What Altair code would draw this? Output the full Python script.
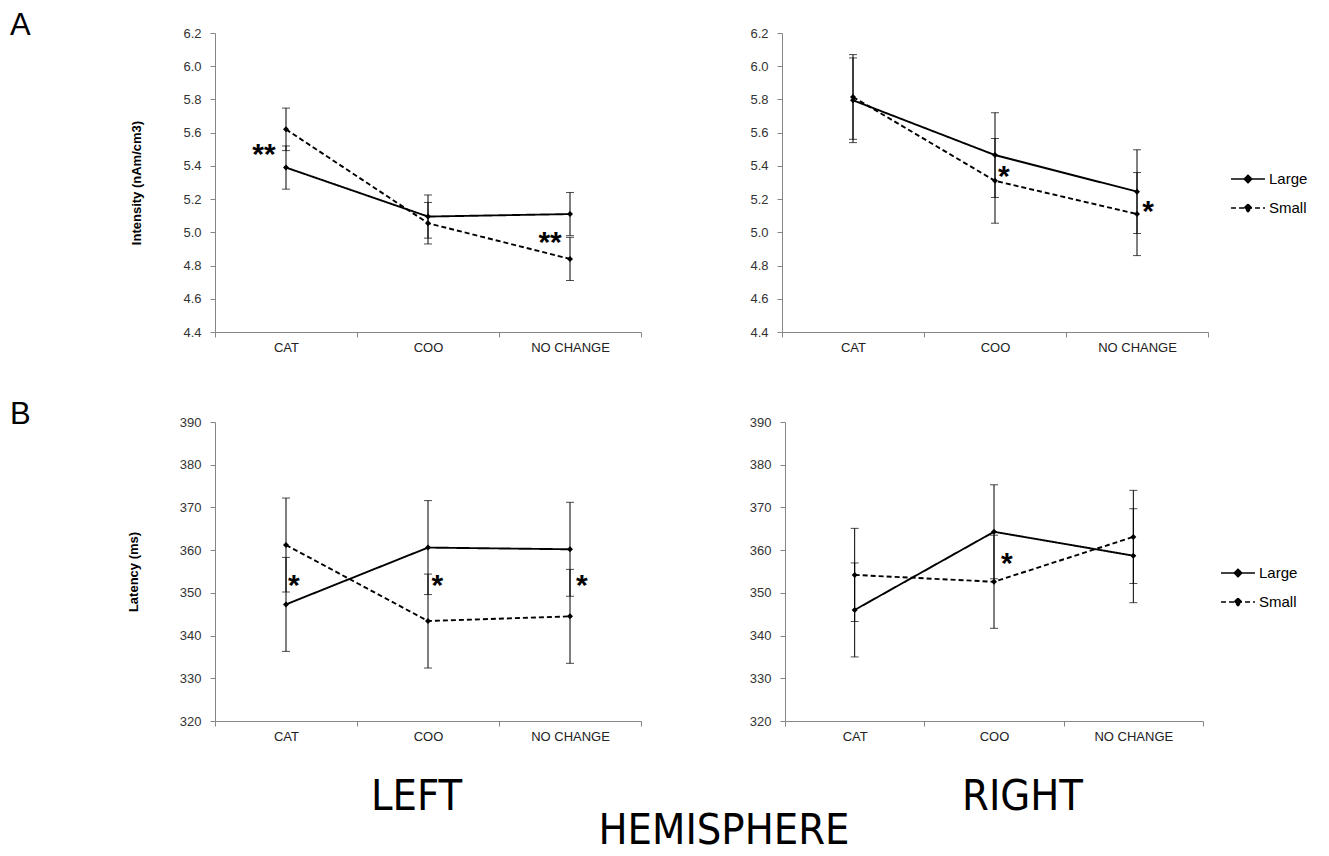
import altair as alt
import pandas as pd

categories = ["CAT", "COO", "NO CHANGE"]
groups = ["Large", "Small"]

# Intensity (nAm/cm3)
int_left_large = [5.39, 5.095, 5.11]
int_left_large_se = [0.13, 0.13, 0.13]
int_left_small = [5.62, 5.055, 4.84]
int_left_small_se = [0.128, 0.125, 0.13]

int_right_large = [5.795, 5.465, 5.245]
int_right_large_se = [0.255, 0.255, 0.252]
int_right_small = [5.815, 5.31, 5.11]
int_right_small_se = [0.255, 0.255, 0.25]

# Latency (ms)
lat_left_large = [347.3, 360.6, 360.2]
lat_left_large_se = [11.0, 11.0, 11.0]
lat_left_small = [361.2, 343.4, 344.5]
lat_left_small_se = [11.0, 11.0, 11.0]

lat_right_large = [346.0, 364.3, 358.7]
lat_right_large_se = [11.0, 11.0, 11.0]
lat_right_small = [354.2, 352.6, 363.1]
lat_right_small_se = [10.9, 10.9, 10.9]

int_ticks = [4.4, 4.6, 4.8, 5.0, 5.2, 5.4, 5.6, 5.8, 6.0, 6.2]
lat_ticks = [320, 330, 340, 350, 360, 370, 380, 390]

# significance marks: text, x (category units), y (data units)
stars_int_left_text = ["**", "**"]
stars_int_left_x = [0.345, 2.36]
stars_int_left_y = [5.514, 4.986]
stars_int_right_text = ["*", "*"]
stars_int_right_x = [1.563, 2.578]
stars_int_right_y = [5.383, 5.173]
stars_lat_left_text = ["*", "*", "*"]
stars_lat_left_x = [0.555, 1.566, 2.583]
stars_lat_left_y = [353.5, 353.5, 353.5]
stars_lat_right_text = ["*"]
stars_lat_right_x = [1.592]
stars_lat_right_y = [358.7]

FONT = "Liberation Sans, Arial, sans-serif"
NARROW = ("Liberation Sans Narrow, Arial Narrow, DejaVu Sans Condensed, "
          "Open Sans Condensed, Roboto Condensed, Liberation Sans, sans-serif")
GRAY = "#868686"

label_expr = " : ".join(
    [f"datum.value == {i + 0.5} ? '{c}'" for i, c in enumerate(categories)]
) + " : ''"
x_values = [0, 0.5, 1, 1.5, 2, 2.5, 3]
LEGEND_PATH = "M-1,0H1M0,-0.22L0.22,0L0,0.22L-0.22,0Z"


def panel(large, large_se, small, small_se, ticks, ydom, yfmt, ytitle,
          st_text, st_x, st_y, width, height, legend_xy=None, letter=None,
          xtitle=None, xtitle_x=0):
    rows = []
    for g, vals, ses in (("Large", large, large_se), ("Small", small, small_se)):
        for i, (c, v, s) in enumerate(zip(categories, vals, ses)):
            rows.append({"cat": c, "pos": i + 0.5, "group": g,
                         "value": v, "lo": v - s, "hi": v + s})
    df = pd.DataFrame(rows)
    sdf = pd.DataFrame({"text": st_text, "pos": st_x, "value": st_y})

    xaxis_kw = dict(
        values=x_values, labelExpr=label_expr, grid=False,
        domainColor=GRAY, tickColor=GRAY, tickSize=5,
        tickOpacity={"condition": {"test": "datum.value % 1 != 0", "value": 0}, "value": 1},
        labelFontSize=13, labelColor="#222222", labelFont=FONT, labelPadding=4,
        labelOverlap=False, labelFlush=False, labelAngle=0,
    )
    if xtitle:
        xaxis_kw.update(title=xtitle, titleFont=NARROW, titleFontSize=43,
                        titleFontWeight="normal", titleColor="black",
                        titlePadding=32, titleX=xtitle_x, titleAlign="center",
                        titleBaseline="top")
    else:
        xaxis_kw.update(title=None)
    xenc = alt.X("pos:Q", scale=alt.Scale(domain=[0, 3], nice=False, zero=False),
                 axis=alt.Axis(**xaxis_kw))

    yaxis_kw = dict(
        values=ticks, format=yfmt, grid=False, domainColor=GRAY, tickColor=GRAY,
        tickSize=5, labelFontSize=13, labelColor="#333333", labelFont=FONT,
        labelPadding=9, labelOverlap=False,
    )
    if ytitle:
        yaxis_kw.update(title=ytitle, titleFont=FONT, titleFontSize=13,
                        titleFontWeight="bold", titleColor="black", titlePadding=39)
    else:
        yaxis_kw.update(title=None)
    yscale = alt.Scale(domain=ydom, nice=False, zero=False)
    yaxis = alt.Axis(**yaxis_kw)
    yenc = alt.Y("value:Q", scale=yscale, axis=yaxis)
    ylo = alt.Y("lo:Q", scale=yscale, axis=yaxis)
    yhi = alt.Y("hi:Q", scale=yscale, axis=yaxis)

    base = alt.Chart(df)
    err = base.mark_rule(color="black", strokeWidth=1).encode(
        x=xenc, y=ylo, y2="hi:Q")
    cap_lo = base.mark_tick(orient="horizontal", size=8, thickness=1, color="black").encode(
        x=xenc, y=ylo)
    cap_hi = base.mark_tick(orient="horizontal", size=8, thickness=1, color="black").encode(
        x=xenc, y=yhi)

    if legend_xy is not None:
        legend = alt.Legend(
            orient="none", legendX=legend_xy[0], legendY=legend_xy[1], title=None,
            symbolType=LEGEND_PATH, symbolSize=1150, symbolStrokeWidth=1.6,
            symbolStrokeColor="black", symbolFillColor="black", symbolOpacity=1,
            labelFontSize=15, labelColor="black", labelFont=FONT,
            rowPadding=3, padding=0, labelOffset=3,
        )
    else:
        legend = None
    dash = alt.StrokeDash("group:N", scale=alt.Scale(domain=groups, range=[[1, 0], [5, 3]]),
                          legend=legend)
    line = base.mark_line(color="black", strokeWidth=1.9).encode(
        x=xenc, y=yenc, strokeDash=dash, order="pos:Q")
    pts = base.mark_point(shape="diamond", filled=True, size=36, color="black", opacity=1).encode(
        x=xenc, y=yenc, detail="group:N")
    stars = alt.Chart(sdf).mark_text(fontSize=30, font=FONT, fontWeight="bold", color="black",
                                     dy=8, align="center", baseline="middle").encode(
        x=xenc, y=yenc, text="text:N")

    ch = alt.layer(err, cap_lo, cap_hi, line, pts, stars).properties(width=width, height=height)
    if letter:
        ch = ch.properties(title=alt.TitleParams(
            text=letter, anchor="start", frame="group", dx=-205, dy=46, fontSize=31,
            fontWeight="normal", font=FONT, color="black", offset=0, baseline="bottom"))
    return ch


W, H = 426, 299

a_left = panel(int_left_large, int_left_large_se, int_left_small, int_left_small_se,
               int_ticks, [4.4, 6.2], ".1f", "Intensity (nAm/cm3)",
               stars_int_left_text, stars_int_left_x, stars_int_left_y, W, H, letter="A")
a_right = panel(int_right_large, int_right_large_se, int_right_small, int_right_small_se,
                int_ticks, [4.4, 6.2], ".1f", None,
                stars_int_right_text, stars_int_right_x, stars_int_right_y, W, H,
                legend_xy=(W + 22, 128))
b_left = panel(lat_left_large, lat_left_large_se, lat_left_small, lat_left_small_se,
               lat_ticks, [320, 390], "d", "Latency (ms)",
               stars_lat_left_text, stars_lat_left_x, stars_lat_left_y, W, H, letter="B",
               xtitle="LEFT", xtitle_x=201)
b_right = panel(lat_right_large, lat_right_large_se, lat_right_small, lat_right_small_se,
                lat_ticks, [320, 390], "d", None,
                stars_lat_right_text, stars_lat_right_x, stars_lat_right_y, 418, H,
                legend_xy=(418 + 17, 133), xtitle="RIGHT", xtitle_x=237)

row_a = alt.hconcat(a_left, a_right, spacing=107).resolve_scale(
    strokeDash="independent").resolve_legend(strokeDash="independent")
row_b = alt.hconcat(b_left, b_right, spacing=107).resolve_scale(
    strokeDash="independent").resolve_legend(strokeDash="independent")

chart = alt.vconcat(row_a, row_b, spacing=45).resolve_scale(
    strokeDash="independent").resolve_legend(strokeDash="independent").properties(
    title=alt.TitleParams(text="HEMISPHERE", orient="bottom", anchor="middle",
                          frame="bounds", dx=65, fontSize=43, font=NARROW,
                          fontWeight="normal", color="black", offset=-8),
    padding={"left": 2, "top": 2, "right": 5, "bottom": 0},
).configure(font=FONT, background="white").configure_view(stroke=None)

chart.save("out.html", embed_options={"renderer": "svg", "actions": False})
